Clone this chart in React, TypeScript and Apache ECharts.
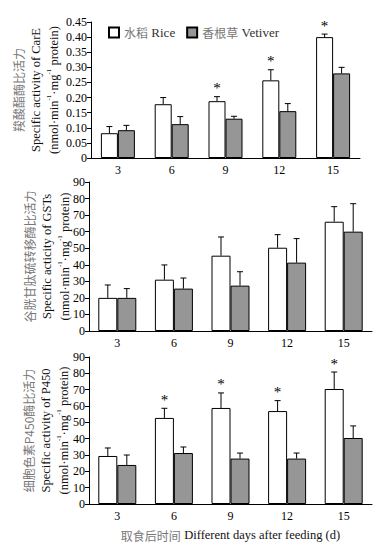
import React, { useEffect, useRef } from "react";
import * as echarts from "echarts";

const categories = ["3", "6", "9", "12", "15"];
const seriesNames = ["水稻 Rice", "香根草 Vetiver"];

const careRice = [0.082, 0.178, 0.188, 0.257, 0.4];
const careRiceErr = [0.022, 0.022, 0.015, 0.035, 0.01];
const careVet = [0.092, 0.112, 0.13, 0.155, 0.28];
const careVetErr = [0.016, 0.025, 0.008, 0.025, 0.02];
const careStar = [0, 0, 1, 1, 1];

const gstRice = [20, 31, 45.5, 50.3, 66];
const gstRiceErr = [7.8, 8.9, 11.3, 7.9, 9.1];
const gstVet = [20, 25.6, 27.4, 41.3, 60];
const gstVetErr = [5.6, 6.4, 8.4, 14.5, 16.9];
const gstStar = [0, 0, 0, 0, 0];

const p450Rice = [29.4, 52.7, 58.8, 56.9, 70.4];
const p450RiceErr = [4.9, 5.9, 9.2, 6.4, 10.4];
const p450Vet = [23.9, 31.2, 27.8, 27.8, 40.4];
const p450VetErr = [6.1, 3.7, 3.4, 3.4, 7.4];
const p450Star = [0, 1, 1, 1, 1];

const yNames = [
  ["羧酸酯酶比活力", "Specific activity of CarE"],
  ["谷胱甘肽硫转移酶比活力", "Specific acticity of GSTs"],
  ["细胞色素P450酶比活力", "Specific activity of P450"],
];

const SERIF = "'Liberation Serif', 'Times New Roman', serif";
const CJK = "'Noto Sans CJK SC', sans-serif";

const panels = [
  { rice: careRice, riceErr: careRiceErr, vet: careVet, vetErr: careVetErr, star: careStar, max: 0.45, interval: 0.05, dec: 2, barW: 17, nameGap: 28 },
  { rice: gstRice, riceErr: gstRiceErr, vet: gstVet, vetErr: gstVetErr, star: gstStar, max: 90, interval: 10, dec: 0, barW: 19, nameGap: 15 },
  { rice: p450Rice, riceErr: p450RiceErr, vet: p450Vet, vetErr: p450VetErr, star: p450Star, max: 90, interval: 10, dec: 0, barW: 19, nameGap: 16 },
];

const grids = [
  { left: 91, right: 27, top: 22, height: 136 },
  { left: 89, right: 15, top: 182, height: 149 },
  { left: 89, right: 15, top: 357, height: 147 },
];

function App() {
  const ref = useRef<HTMLDivElement>(null);
  useEffect(() => {
    if (!ref.current) return;
    const chart = echarts.init(ref.current, null, { renderer: "svg" });

    const rich = {
      cn: { fontFamily: CJK, fontSize: 12, color: "#777", lineHeight: 18 },
      en: { fontFamily: SERIF, fontSize: 12.5, color: "#111", lineHeight: 18 },
      sup: { fontFamily: SERIF, fontSize: 7, color: "#111", verticalAlign: "top", lineHeight: 18 },
    };

    const xAxes: any[] = [];
    const yAxes: any[] = [];
    const series: any[] = [];

    panels.forEach((p, i) => {
      xAxes.push({
        type: "category",
        gridIndex: i,
        data: categories,
        axisLine: { lineStyle: { color: "#000", width: 1 } },
        axisTick: { inside: true, length: 3, lineStyle: { color: "#000" } },
        axisLabel: { fontFamily: SERIF, fontSize: 12, color: "#000", margin: 6 },
        ...(i === 2
          ? {
              name: "{cn|取食后时间} {en|Different days after feeding (d)}",
              nameLocation: "middle",
              nameGap: 22,
              nameMoveOverlap: false,
              nameTextStyle: { rich },
            }
          : {}),
      });
      yAxes.push({
        type: "value",
        gridIndex: i,
        min: 0,
        max: p.max,
        interval: p.interval,
        splitLine: { show: false },
        axisLine: { show: true, lineStyle: { color: "#000", width: 1 } },
        axisTick: { show: true, inside: false, length: 4, lineStyle: { color: "#000" } },
        axisLabel: {
          fontFamily: SERIF,
          fontSize: 12,
          color: "#000",
          margin: 4,
          formatter: (v: number) => (v === 0 ? "0" : v.toFixed(p.dec)),
        },
        name:
          "{cn|" + yNames[i][0] + "}\n{en|" + yNames[i][1] + "}\n{en|(nmol·min}{sup|-1}{en|·mg}{sup|-1}{en| protein)}",
        nameLocation: "middle",
        nameRotate: 90,
        nameGap: p.nameGap,
        nameMoveOverlap: false,
        nameTextStyle: { rich, align: "center" },
      });

      const groups = [
        { name: seriesNames[0], vals: p.rice, errs: p.riceErr, color: "#ffffff", sign: -1, stars: p.star },
        { name: seriesNames[1], vals: p.vet, errs: p.vetErr, color: "#969696", sign: 1, stars: null as any },
      ];
      groups.forEach((g) => {
        series.push({
          type: "bar",
          name: g.name,
          xAxisIndex: i,
          yAxisIndex: i,
          data: g.vals,
          barWidth: p.barW,
          barGap: "0%",
          itemStyle: { color: g.color, borderColor: "#000", borderWidth: 1 },
          z: 2,
        });
      });
      groups.forEach((g) => {
        const bw = p.barW;
        series.push({
          type: "custom",
          name: g.name + " err",
          xAxisIndex: i,
          yAxisIndex: i,
          z: 5,
          silent: true,
          itemStyle: { color: "#000" },
          data: g.vals.map((v, k) => [k, v, v + g.errs[k], g.stars ? g.stars[k] : 0]),
          renderItem: (params: any, api: any) => {
            const base = api.coord([api.value(0), api.value(1)]);
            const top = api.coord([api.value(0), api.value(2)]);
            const cx = base[0] + (g.sign * bw) / 2;
            const children: any[] = [
              { type: "line", shape: { x1: cx, y1: base[1], x2: cx, y2: top[1] }, style: { stroke: "#000", lineWidth: 1 } },
              { type: "line", shape: { x1: cx - 3, y1: top[1], x2: cx + 3, y2: top[1] }, style: { stroke: "#000", lineWidth: 1 } },
            ];
            if (api.value(3)) {
              children.push({
                type: "text",
                x: cx,
                y: top[1] - 1,
                style: { text: "*", fontFamily: SERIF, fontSize: 15, fill: "#000", stroke: "none", align: "center", verticalAlign: "bottom" },
              });
            }
            return { type: "group", children };
          },
        });
      });
    });

    chart.setOption({
      animation: false,
      backgroundColor: "#fff",
      grid: grids,
      legend: {
        data: seriesNames,
        left: 103,
        top: 21,
        icon: "rect",
        itemWidth: 10,
        itemHeight: 10,
        itemGap: 11,
        formatter: (name: string) =>
          name === seriesNames[0] ? "{cn|水稻} {en|Rice}" : "{cn|香根草} {en|Vetiver}",
        textStyle: {
          rich: {
            cn: { fontFamily: CJK, fontSize: 12, color: "#777" },
            en: { fontFamily: SERIF, fontSize: 13, color: "#333" },
          },
        },
      },
      xAxis: xAxes,
      yAxis: yAxes,
      series,
    });
    return () => chart.dispose();
  }, []);
  return (
    <div
      ref={ref}
      style={{ position: "fixed", left: 0, top: 0, width: 387, height: 548, background: "#fff" }}
    />
  );
}

export default App;
